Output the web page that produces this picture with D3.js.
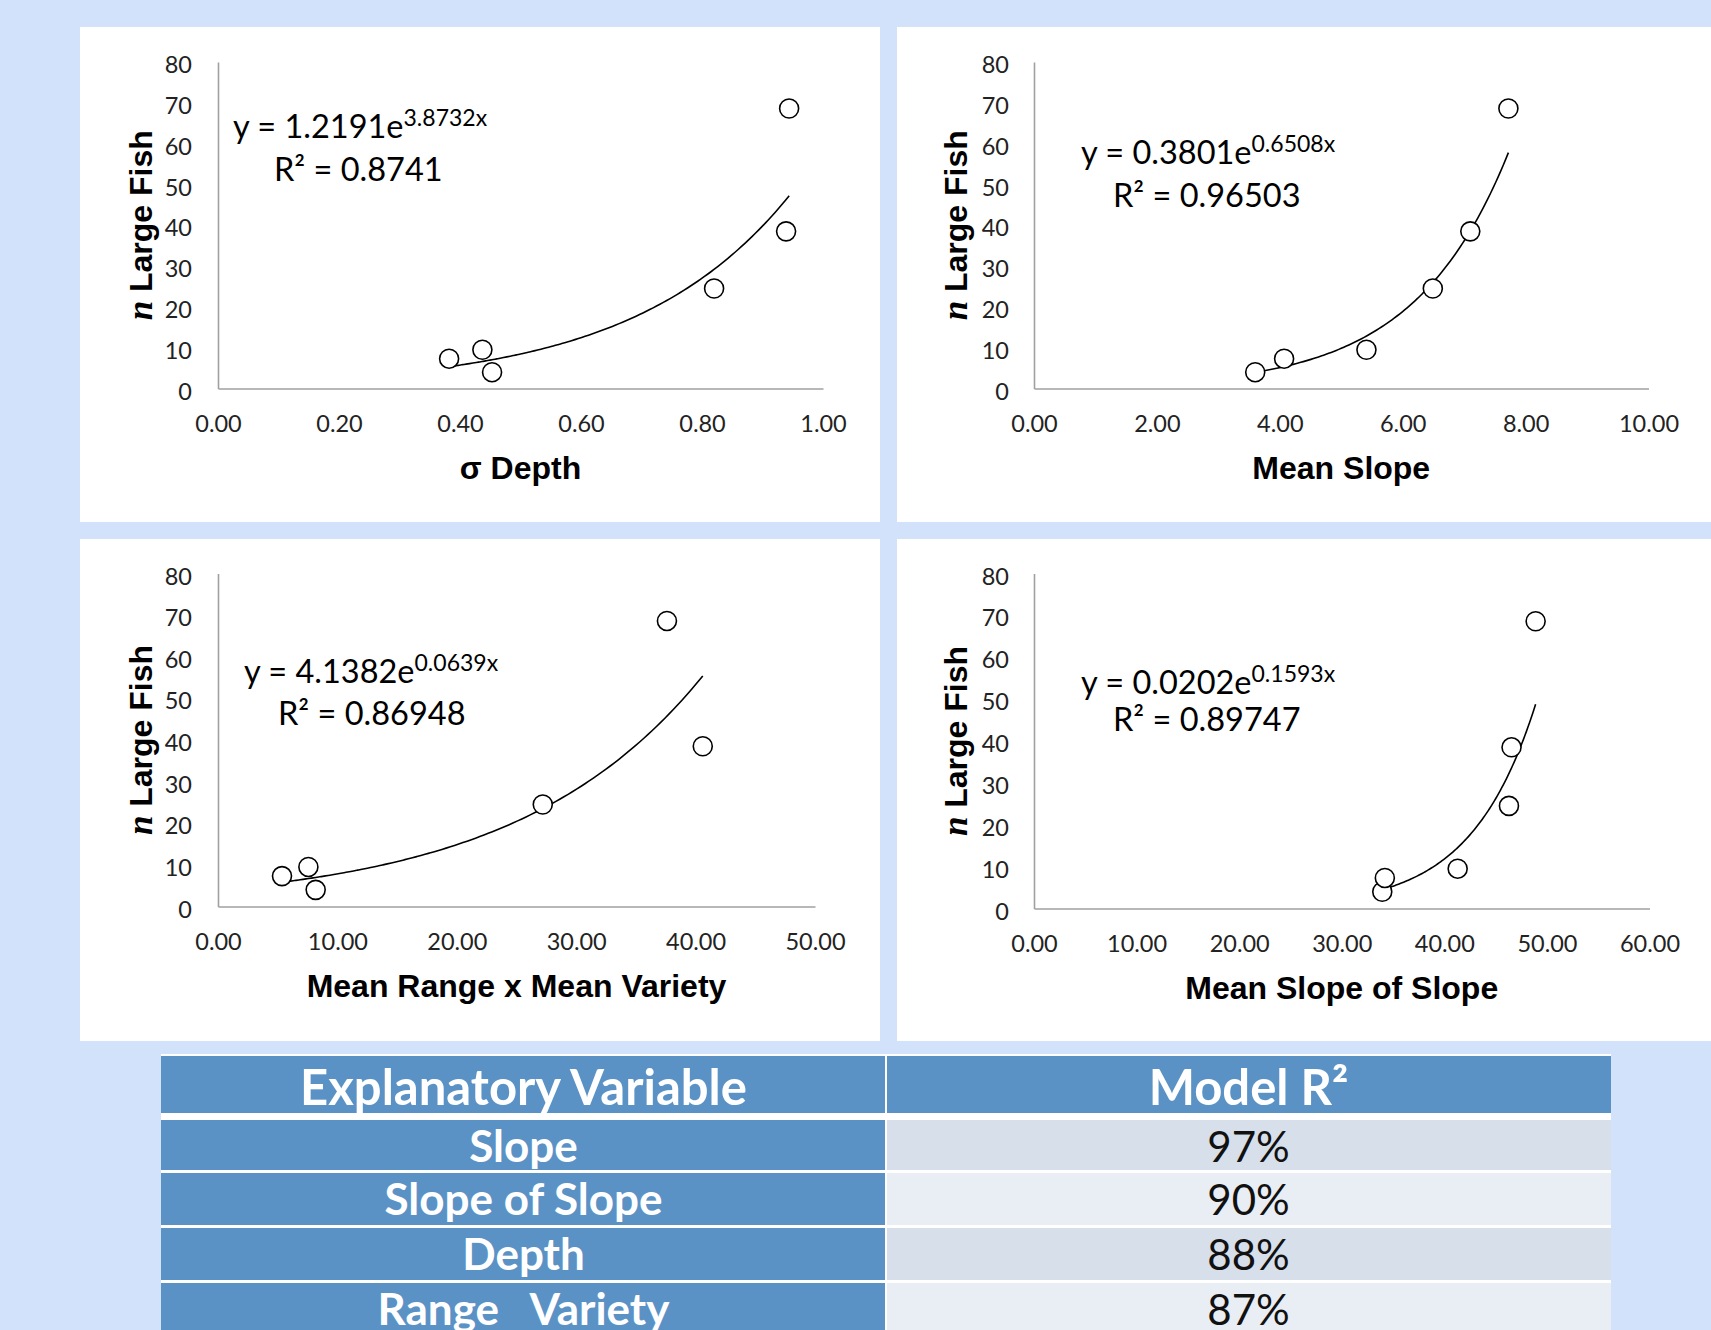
<!DOCTYPE html>
<html><head><meta charset="utf-8">
<script src="https://cdn.jsdelivr.net/npm/d3@7"></script>
<style>
html,body{margin:0;padding:0;background:#d3e2fb;}
svg{display:block;}
</style></head><body>
<svg id="c" width="1711" height="1330"></svg>
<script>
// ---------- data ----------
const fishCounts   = [4, 7.3, 9.5, 24.5, 38.5, 68.6];      // n Large Fish per site
const depthSD      = [0.453, 0.382, 0.437, 0.820, 0.939, 0.944];
const meanSlope    = [3.60, 4.07, 5.41, 6.49, 7.10, 7.72];
const rangeVariety = [8.18, 5.36, 7.57, 27.2, 40.6, 37.6];
const slopeOfSlope = [33.95, 34.2, 41.3, 46.3, 46.55, 48.9];
const xSeries      = [depthSD, meanSlope, rangeVariety, slopeOfSlope];
const xTitles      = ["σ Depth", "Mean Slope", "Mean Range x Mean Variety", "Mean Slope of Slope"];
const xMax         = [1, 10, 50, 60];
const xTickStep    = [0.2, 2, 10, 10];
const yTicks       = [0, 10, 20, 30, 40, 50, 60, 70, 80];
const fitA         = [1.2191, 0.3801, 4.1382, 0.0202];
const fitB         = [3.8732, 0.6508, 0.0639, 0.1593];
const fitAText     = ["1.2191", "0.3801", "4.1382", "0.0202"];
const fitBText     = ["3.8732x", "0.6508x", "0.0639x", "0.1593x"];
const r2Text       = ["0.8741", "0.96503", "0.86948", "0.89747"];
const tableHeaders = ["Explanatory Variable", "Model R²"];
const tableVars    = ["Slope", "Slope of Slope", "Depth", "Range   Variety"];
const tableR2      = ["97%", "90%", "88%", "87%"];

// ---------- layout ----------
const layouts = [
  {panel:[80,27,800,495],  xr:[218,823],    yr:[388.5,62],    pad:26, ytx:140, xty:479, eq:[233,138], r2:[274,181]},
  {panel:[897,27,814,495], xr:[1034,1648.5],yr:[388.5,62],    pad:25, ytx:955, xty:479, eq:[1081,164], r2:[1113,207]},
  {panel:[80,539,800,502], xr:[218,815],    yr:[906.5,573.5], pad:26, ytx:140, xty:997, eq:[244,683], r2:[278,725]},
  {panel:[897,539,814,502],xr:[1034,1649.5],yr:[908.5,573.5], pad:25, ytx:955, xty:999, eq:[1081,694], r2:[1113,731]}
];
const svg = d3.select("#c");
const tickFont = "Lato, 'Open Sans', sans-serif";

layouts.forEach((L, i) => {
  const [px, py, pw, ph] = L.panel;
  svg.append("rect").attr("x", px).attr("y", py).attr("width", pw).attr("height", ph).attr("fill", "#fff");
  const x = d3.scaleLinear().domain([0, xMax[i]]).range(L.xr);
  const y = d3.scaleLinear().domain([0, 80]).range(L.yr);
  const g = svg.append("g");

  const xt = d3.range(0, xMax[i] + xTickStep[i] / 2, xTickStep[i]);
  const ax = g.append("g").attr("transform", `translate(0,${y(0)})`)
    .call(d3.axisBottom(x).tickValues(xt).tickFormat(d3.format(".2f")).tickSize(0).tickPadding(27));
  const ay = g.append("g").attr("transform", `translate(${x(0)},0)`)
    .call(d3.axisLeft(y).tickValues(yTicks).tickFormat(d3.format("d")).tickSize(0).tickPadding(L.pad));
  [ax, ay].forEach(a => {
    a.select(".domain").attr("stroke", "#a0a0a0").attr("stroke-width", 1.6);
    a.selectAll("text").attr("font-family", tickFont).attr("font-size", 23.5).attr("fill", "#222");
  });
  ay.selectAll("text").attr("dy", "0.45em");

  // trendline drawn from the displayed fit equation
  const xs = xSeries[i];
  const lo = d3.min(xs), hi = d3.max(xs);
  const pts = d3.range(0, 101).map(k => { const v = lo + (hi - lo) * k / 100; return [v, fitA[i] * Math.exp(fitB[i] * v)]; });
  g.append("path").datum(pts).attr("fill", "none").attr("stroke", "#000").attr("stroke-width", 1.6)
    .attr("d", d3.line().x(d => x(d[0])).y(d => y(d[1])).curve(d3.curveMonotoneX));

  // points
  g.selectAll("circle.pt").data(xs.map((v, k) => [v, fishCounts[k]])).join("circle")
    .attr("class", "pt").attr("cx", d => x(d[0])).attr("cy", d => y(d[1])).attr("r", 9.5)
    .attr("fill", "#fff").attr("stroke", "#000").attr("stroke-width", 1.6);

  // equation
  const eq = g.append("text").attr("x", L.eq[0]).attr("y", L.eq[1])
    .attr("font-family", tickFont).attr("font-size", 32.5).attr("fill", "#000");
  eq.append("tspan").text(`y = ${fitAText[i]}e`);
  eq.append("tspan").attr("dy", -12).attr("font-size", 23).text(fitBText[i]);
  g.append("text").attr("x", L.r2[0]).attr("y", L.r2[1])
    .attr("font-family", tickFont).attr("font-size", 32.5).attr("fill", "#000")
    .text(`R² = ${r2Text[i]}`);

  // axis titles
  g.append("text").attr("x", (L.xr[0] + L.xr[1]) / 2).attr("y", L.xty)
    .attr("text-anchor", "middle").attr("font-family", "'Liberation Sans', Arial, sans-serif")
    .attr("font-weight", "bold").attr("font-size", 32).attr("fill", "#000").text(xTitles[i]);
  const yt = g.append("text").attr("transform", `translate(${L.ytx},${(L.yr[0] + L.yr[1]) / 2}) rotate(-90)`)
    .attr("text-anchor", "middle").attr("dy", "0.36em").attr("font-size", 32).attr("fill", "#000")
    .attr("font-weight", "bold");
  yt.append("tspan").attr("font-family", "'Liberation Serif', 'DejaVu Serif', serif").attr("font-style", "italic").attr("font-size", 35).text("n");
  yt.append("tspan").attr("font-family", "'Liberation Sans', Arial, sans-serif").text(" Large Fish");
});

// ---------- table ----------
const T = {x0:161, xm:886, x1:1611, top:1054};
svg.append("rect").attr("x", T.x0).attr("y", T.top).attr("width", T.x1 - T.x0).attr("height", 1330 - T.top).attr("fill", "#fff");
const blue = "#5b92c6";
const hdrY = [1056, 1113];
[[T.x0, T.xm - 1], [T.xm + 1, T.x1]].forEach(c => {
  svg.append("rect").attr("x", c[0]).attr("y", hdrY[0]).attr("width", c[1] - c[0]).attr("height", hdrY[1] - hdrY[0]).attr("fill", blue);
});
svg.selectAll("text.hdr").data(tableHeaders).join("text").attr("class", "hdr")
  .attr("x", (d, j) => j === 0 ? (T.x0 + T.xm) / 2 : (T.xm + T.x1) / 2).attr("y", 1105)
  .attr("text-anchor", "middle").attr("font-family", tickFont).attr("font-weight", "bold")
  .attr("font-size", 49).attr("fill", "#fff").text(d => d);

const rowTops = [1120, 1173, 1228, 1283];
const rowH = 50;
const rightFill = ["#d7dfeb", "#e9edf4", "#d7dfeb", "#e9edf4"];
tableVars.forEach((v, k) => {
  const t = rowTops[k];
  const h = k === 3 ? 60 : rowH + (k === 0 ? 0 : 2);
  svg.append("rect").attr("x", T.x0).attr("y", t).attr("width", T.xm - 1 - T.x0).attr("height", h).attr("fill", blue);
  svg.append("rect").attr("x", T.xm + 1).attr("y", t).attr("width", T.x1 - T.xm - 1).attr("height", h).attr("fill", rightFill[k]);
  svg.append("text").attr("x", (T.x0 + T.xm) / 2).attr("y", t + 42).attr("text-anchor", "middle")
    .attr("font-family", tickFont).attr("font-weight", "bold").attr("font-size", 44).attr("fill", "#fff")
    .style("white-space", "pre").text(v);
  svg.append("text").attr("x", (T.xm + T.x1) / 2).attr("y", t + 42).attr("text-anchor", "middle")
    .attr("font-family", tickFont).attr("font-size", 42).attr("fill", "#111").text(tableR2[k]);
});
</script>
</body></html>
